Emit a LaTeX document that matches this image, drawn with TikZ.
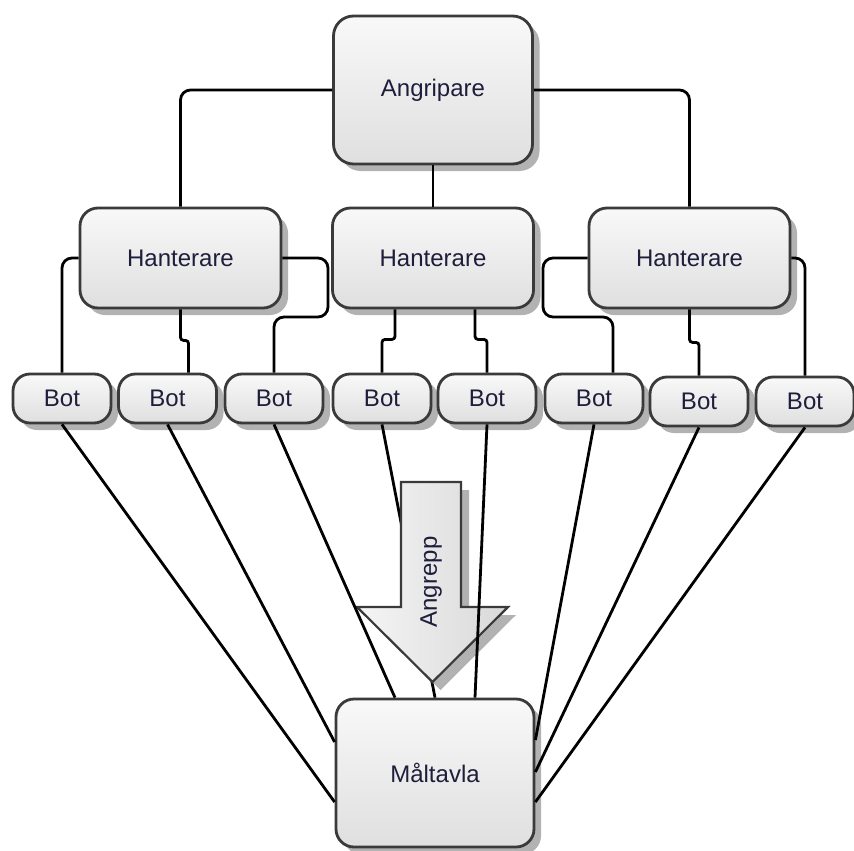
\documentclass[tikz,border=0pt]{standalone}
\usepackage{fontspec}
\setmainfont{Liberation Sans}
\usetikzlibrary{positioning,backgrounds,shadows}
\definecolor{bd}{HTML}{3A3A3A}
\definecolor{tx}{HTML}{1E1E3C}

\begin{document}
\begin{tikzpicture}[
  x=1pt, y=-1pt,
  box/.style={rectangle, rounded corners=18pt, draw=bd, line width=2.8pt,
    top color=gray!5, bottom color=gray!25, text=tx, inner sep=0pt,
    font=\fontsize{24}{28}\selectfont,
    drop shadow={shadow xshift=7pt, shadow yshift=-7pt, fill=black!30, opacity=1}},
  boss/.style={box, minimum width=199pt, minimum height=148pt, rounded corners=20pt},
  handler/.style={box, minimum width=201pt, minimum height=100pt},
  bot/.style={box, minimum width=98pt, minimum height=49pt, rounded corners=17pt},
  conn/.style={draw, black, line width=2.8pt, rounded corners=10pt},
  jog/.style={conn, rounded corners=3pt},
  bigarrow/.style={draw=bd, line width=2.2pt, left color=gray!8, right color=gray!30},
]
\useasboundingbox (0,0) rectangle (854,851);

% --- Nodes ---
\node[boss] (att) at (433,90) {Angripare};

\node[handler] (h1) at (180.5,258) {Hanterare};
\node[handler] (h2) at (433,258) {Hanterare};
\node[handler] (h3) at (689.5,258) {Hanterare};

\node[bot] (b1) at (62,398.5) {Bot};
\node[bot] (b2) at (167.5,398.5) {Bot};
\node[bot] (b3) at (274,398.5) {Bot};
\node[bot] (b4) at (382,398.5) {Bot};
\node[bot] (b5) at (487,398.5) {Bot};
\node[bot] (b6) at (594,398.5) {Bot};
\node[bot] (b7) at (699,401.5) {Bot};
\node[bot] (b8) at (805,401.5) {Bot};

\node[boss, minimum width=198pt, minimum height=148pt, rounded corners=18pt] (mal) at (435,773) {Måltavla};

% --- Angripare -> Hanterare ---
\draw[conn] (att.west) -| (h1.north);
\draw[conn] (att.south) -- (h2.north);
\draw[conn] (att.east) -| (h3.north);

% --- Hanterare -> Bot ---
\draw[conn] (h1.west) -| (b1.north);
\draw[jog] (h1.south) -- ++(0,31) -| ([xshift=21pt]b2.north);
\draw[conn] (h1.east) -| (328,317) -| (b3.north);
\draw[jog] ([xshift=-38pt]h2.south) -- ++(0,30) -| (b4.north);
\draw[jog] ([xshift=42pt]h2.south) -- ++(0,30) -| (b5.north);
\draw[conn] (h3.west) -| (543,317) -| ([xshift=19pt]b6.north);
\draw[jog] (h3.south) -- ++(0,33) -| (b7.north);
\draw[conn] (h3.east) -| (b8.north);

% --- Bot -> Maltavla (b4 runs under the arrow) ---
\draw[conn] (b4.south) -- (mal.north);

% --- Angrepp arrow ---
\fill[black!30, shift={(8,8)}] (401,482) -- (461,482) -- (461,607) -- (508,607)
  -- (432.5,682) -- (357,607) -- (401,607) -- cycle;
\draw[bigarrow] (401,482) -- (461,482) -- (461,607) -- (508,607)
  -- (432.5,682) -- (357,607) -- (401,607) -- cycle;
\node[rotate=90, text=tx, font=\fontsize{24}{28}\selectfont] (atk) at (431,582) {Angrepp};

\draw[conn] (b1.south) -- ([yshift=-29pt]mal.west);
\draw[conn] (b2.south) -- ([yshift=31pt]mal.west);
\draw[conn] (b3.south) -- ([xshift=-40pt]mal.north);
\draw[conn] (b5.south) -- ([xshift=40pt]mal.north);
\draw[conn] (b6.south) -- ([yshift=33pt]mal.east);
\draw[conn] (b7.south) -- ([yshift=1pt]mal.east);
\draw[conn] (b8.south) -- ([yshift=-29pt]mal.east);
\end{tikzpicture}
\end{document}
